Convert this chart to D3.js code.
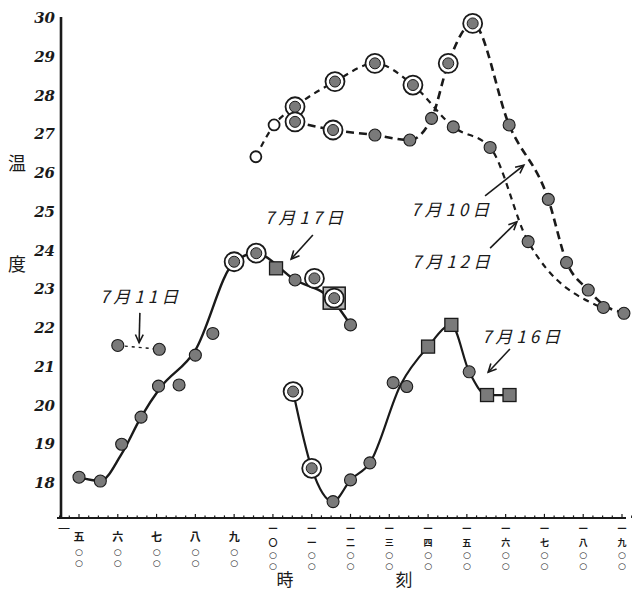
<!DOCTYPE html>
<html><head><meta charset="utf-8">
<script src="https://cdn.jsdelivr.net/npm/d3@7"></script>
<style>
html,body{margin:0;padding:0;background:#fff;}
svg{display:block;}
</style></head>
<body>
<svg id="c" width="632" height="590"></svg>
<script>
// ---- data ----
const yTicks = [18,19,20,21,22,23,24,25,26,27,28,29,30];
const xHours = [5,6,7,8,9,10,11,12,13,14,15,16,17,18,19];
const hourLabels = ["五","六","七","八","九","一〇","一一","一二","一三","一四","一五","一六","一七","一八","一九"];
const minuteLabel = ["○","○"];

// lines (hour, °C)
const line0717 = [[5.0,18.15],[5.55,18.05],[6.08,18.72],[6.6,19.7],[7.09,20.45],[8.0,21.43],[9.0,23.7],[9.55,23.93],[10.55,23.25],[11.55,22.7],[12.0,22.08]];
const line0711 = [[6.0,21.55],[7.07,21.45]];
const line0716 = [[10.52,20.36],[11.0,18.38],[11.55,17.52],[12.0,18.08],[12.5,18.52],[13.3,20.55],[14.0,21.52],[14.6,22.08],[15.06,20.87],[15.52,20.27],[16.1,20.27]];
const line0710 = [[10.57,27.32],[11.55,27.11],[12.63,26.98],[13.53,26.85],[14.09,27.41],[14.52,28.83],[15.15,29.86],[16.09,27.24],[17.1,25.32],[17.57,23.71],[18.13,22.98],[18.52,22.6],[19.05,22.4]];
const line0712 = [[9.56,26.42],[10.03,27.24],[10.57,27.71],[11.6,28.36],[12.63,28.83],[13.61,28.27],[14.65,27.19],[15.6,26.66],[16.58,24.23],[18.52,22.51]];

// markers
const filledDots = [[5.0,18.15],[5.55,18.05],[6.1,19.0],[6.6,19.7],[7.05,20.5],[7.58,20.53],[8.0,21.3],[8.45,21.86],[10.57,23.24],[12.0,22.08],
  [6.0,21.55],[7.07,21.45],
  [11.55,17.52],[12.0,18.08],[12.5,18.52],[13.1,20.59],[13.45,20.49],[15.06,20.87],
  [12.63,26.98],[13.53,26.85],[14.09,27.41],[14.65,27.19],[15.6,26.66],[16.09,27.24],[17.1,25.32],[16.58,24.23],[17.57,23.69],[18.13,22.98],[18.52,22.53],[19.05,22.38]];
const ringDots = [[9.0,23.71],[9.57,23.93],[11.07,23.28],[11.58,22.77],[10.52,20.36],[11.0,18.38],
  [10.57,27.71],[10.57,27.32],[11.55,27.11],[11.6,28.36],[12.63,28.83],[13.61,28.27],[14.52,28.83],[15.15,29.86]];
const openDots = [[9.56,26.42],[10.03,27.24]];
const squares = [[10.08,23.54],[14.0,21.52],[14.6,22.08],[15.52,20.27],[16.1,20.27]];
const squareFrames = [[11.58,22.77]];

// annotations: label, text centre (h,T), arrow from, arrow to
const notes = [
  {t:"7月11日", at:[6.6,22.8],  from:[6.57,22.39], to:[6.55,21.62]},
  {t:"7月17日", at:[10.85,24.84], from:[11.03,24.4], to:[10.47,23.78]},
  {t:"7月10日", at:[14.62,25.05], from:[15.47,25.41], to:[16.47,26.2]},
  {t:"7月12日", at:[14.64,23.7],  from:[15.6,24.06], to:[16.29,24.74]},
  {t:"7月16日", at:[16.45,21.77], from:[16.11,21.46], to:[15.55,20.86]}
];

// ---- drawing ----
const svg = d3.select("#c");
const x = d3.scaleLinear().domain([5,19]).range([79,622]);
const y = d3.scaleLinear().domain([18,30]).range([483,18]);
const yBottom = 17.1;
const ink = "#1a1a1a";

// y axis
svg.append("line").attr("x1",61).attr("x2",61).attr("y1",y(30)-1).attr("y2",y(yBottom)+1)
  .attr("stroke",ink).attr("stroke-width",2.6);
svg.append("g").selectAll("text").data(yTicks).join("text")
  .attr("x",55).attr("y",d=>y(d)+5).attr("text-anchor","end")
  .attr("font-family","DejaVu Serif").attr("font-style","italic").attr("font-weight","bold")
  .attr("font-size",15).attr("fill",ink).text(d=>d);

// x axis
svg.append("line").attr("x1",57).attr("x2",626).attr("y1",y(yBottom)).attr("y2",y(yBottom))
  .attr("stroke",ink).attr("stroke-width",2);
const minor = d3.range(4.5,19.26,0.25);
svg.append("g").selectAll("line").data(minor).join("line")
  .attr("x1",d=>x(d)).attr("x2",d=>x(d))
  .attr("y1",y(yBottom)).attr("y2",d=>y(yBottom)-(Math.abs(d-Math.round(d))<0.01?4:2.5))
  .attr("stroke",ink).attr("stroke-width",1.2);

// x labels (stacked vertically, one text per glyph)
const xl = svg.append("g").attr("fill",ink).attr("text-anchor","middle");
xHours.forEach((h,i)=>{
  const lab = hourLabels[i];
  const cx = x(h);
  if (lab.length === 1) {
    xl.append("text").attr("x",cx).attr("y",541).attr("font-family","Noto Sans CJK JP").attr("font-weight","bold").attr("font-size",11).text(lab);
    xl.append("text").attr("x",cx).attr("y",554.5).attr("font-family","DejaVu Sans").attr("font-weight","bold").attr("font-size",9).text(minuteLabel[0]);
    xl.append("text").attr("x",cx).attr("y",565.5).attr("font-family","DejaVu Sans").attr("font-weight","bold").attr("font-size",9).text(minuteLabel[1]);
  } else {
    xl.append("text").attr("x",cx).attr("y",532).attr("font-family","Noto Sans CJK JP").attr("font-weight","bold").attr("font-size",9).text(lab[0]);
    xl.append("text").attr("x",cx).attr("y",545.5).attr("font-family","Noto Sans CJK JP").attr("font-weight","bold").attr("font-size",9).text(lab[1]);
    xl.append("text").attr("x",cx).attr("y",557.5).attr("font-family","DejaVu Sans").attr("font-weight","bold").attr("font-size",9).text(minuteLabel[0]);
    xl.append("text").attr("x",cx).attr("y",568.5).attr("font-family","DejaVu Sans").attr("font-weight","bold").attr("font-size",9).text(minuteLabel[1]);
  }
});
xl.append("text").attr("x",64).attr("y",534).attr("font-family","Noto Sans CJK JP").attr("font-size",12).text("一");

// axis titles
const tf = "Noto Sans CJK JP";
svg.append("text").attr("x",285).attr("y",586).attr("font-family",tf).attr("font-size",17).attr("text-anchor","middle").attr("fill",ink).text("時");
svg.append("text").attr("x",404).attr("y",586).attr("font-family",tf).attr("font-size",17).attr("text-anchor","middle").attr("fill",ink).text("刻");
svg.append("text").attr("x",17).attr("y",170).attr("font-family",tf).attr("font-size",18).attr("text-anchor","middle").attr("fill",ink).text("温");
svg.append("text").attr("x",17).attr("y",271).attr("font-family",tf).attr("font-size",18).attr("text-anchor","middle").attr("fill",ink).text("度");

// lines
const lineGen = d3.line().x(d=>x(d[0])).y(d=>y(d[1])).curve(d3.curveMonotoneX);
const lines = [
  {d:line0717, w:2.4, dash:null},
  {d:line0711, w:1.4, dash:"3,4"},
  {d:line0716, w:2.2, dash:null},
  {d:line0710, w:2.6, dash:"8,5"},
  {d:line0712, w:2.2, dash:"6,5"}
];
svg.append("g").selectAll("path").data(lines).join("path")
  .attr("d",d=>lineGen(d.d)).attr("fill","none").attr("stroke",ink)
  .attr("stroke-width",d=>d.w).attr("stroke-dasharray",d=>d.dash);

// markers
const mk = svg.append("g");
const dotFill = "#7a7a7a";
mk.selectAll("rect.frame").data(squareFrames).join("rect").attr("class","frame")
  .attr("x",d=>x(d[0])-11).attr("y",d=>y(d[1])-11).attr("width",22).attr("height",22)
  .attr("fill","#b5b5b5").attr("stroke",ink).attr("stroke-width",1.5);
mk.selectAll("rect.sq").data(squares).join("rect").attr("class","sq")
  .attr("x",d=>x(d[0])-6.5).attr("y",d=>y(d[1])-6.5).attr("width",13).attr("height",13)
  .attr("fill",dotFill).attr("stroke",ink).attr("stroke-width",1.3);
mk.selectAll("circle.ring").data(ringDots).join("circle").attr("class","ring")
  .attr("cx",d=>x(d[0])).attr("cy",d=>y(d[1])).attr("r",9.5)
  .attr("fill","#fff").attr("stroke",ink).attr("stroke-width",1.8);
mk.selectAll("circle.ringin").data(ringDots).join("circle").attr("class","ringin")
  .attr("cx",d=>x(d[0])).attr("cy",d=>y(d[1])).attr("r",5.5)
  .attr("fill",dotFill).attr("stroke",ink).attr("stroke-width",1);
mk.selectAll("circle.dot").data(filledDots).join("circle").attr("class","dot")
  .attr("cx",d=>x(d[0])).attr("cy",d=>y(d[1])).attr("r",6)
  .attr("fill",dotFill).attr("stroke",ink).attr("stroke-width",1.1);
mk.selectAll("circle.open").data(openDots).join("circle").attr("class","open")
  .attr("cx",d=>x(d[0])).attr("cy",d=>y(d[1])).attr("r",5.5)
  .attr("fill","#fff").attr("stroke",ink).attr("stroke-width",1.8);

// annotations
const an = svg.append("g");
notes.forEach(n=>{
  an.append("text").attr("x",x(n.at[0])).attr("y",y(n.at[1])+6)
    .attr("text-anchor","middle").attr("font-family","Noto Sans CJK JP")
    .attr("font-style","italic").attr("font-size",17).attr("letter-spacing",4)
    .attr("fill",ink).text(n.t);
  const x1=x(n.from[0]), y1=y(n.from[1]), x2=x(n.to[0]), y2=y(n.to[1]);
  an.append("line").attr("x1",x1).attr("y1",y1).attr("x2",x2).attr("y2",y2)
    .attr("stroke",ink).attr("stroke-width",1.6);
  const a=Math.atan2(y2-y1,x2-x1), L=9, s=0.45;
  const p = [[x2-L*Math.cos(a-s), y2-L*Math.sin(a-s)],[x2,y2],[x2-L*Math.cos(a+s), y2-L*Math.sin(a+s)]];
  an.append("path").attr("d",d3.line()(p)).attr("fill","none").attr("stroke",ink).attr("stroke-width",1.6);
});
</script>
</body></html>
